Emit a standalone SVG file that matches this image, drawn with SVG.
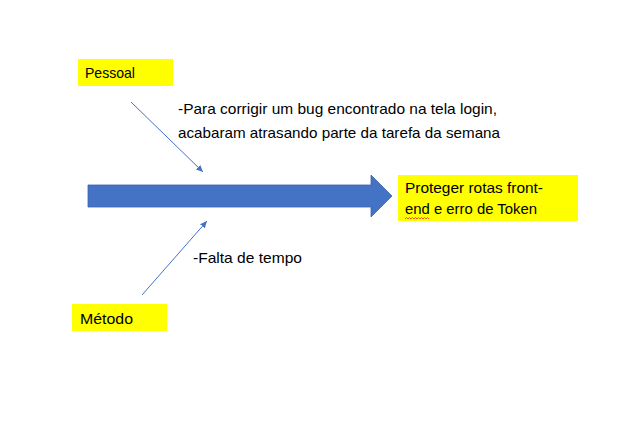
<svg xmlns="http://www.w3.org/2000/svg" width="625" height="427" viewBox="0 0 625 427">
<style>
.lbl{fill:#ffff00}
.t{font-family:"Liberation Sans",Arial,sans-serif;font-size:15px;fill:#000}
.con{stroke:#4472c4;stroke-width:1;fill:none;marker-end:url(#ah)}
</style>
<defs>
<marker id="ah" markerWidth="8" markerHeight="8" refX="7" refY="4" orient="auto" markerUnits="userSpaceOnUse">
<path d="M0,0.8 L7,4 L0,7.2 Z" fill="#4472c4"/>
</marker>
</defs>
<rect width="625" height="427" fill="#fff"/>
<g id="connectors">
<line class="con" x1="131" y1="102" x2="203" y2="172"/>
<line class="con" x1="142" y1="295" x2="207" y2="221"/>
</g>
<g id="spine">
<path d="M88,185 H371 V175 L392,196 L371,217 V207 H88 Z" fill="#4472c4" stroke="#3a62ad" stroke-width="0.8"/>
</g>
<g id="pessoal">
<rect class="lbl" x="78" y="59" width="95" height="27"/>
<text class="t" x="85" y="78" textLength="50" lengthAdjust="spacingAndGlyphs">Pessoal</text>
</g>
<g id="metodo">
<rect class="lbl" x="72" y="304" width="95" height="27"/>
<text class="t" x="80" y="324" textLength="53" lengthAdjust="spacingAndGlyphs">Método</text>
</g>
<g id="efeito">
<rect class="lbl" x="398" y="175" width="180" height="46"/>
<text class="t" x="405" y="193" textLength="138" lengthAdjust="spacingAndGlyphs">Proteger rotas front-</text>
<text class="t" x="405" y="214" textLength="132" lengthAdjust="spacingAndGlyphs">end e erro de Token</text>
<path d="M405,219 l1.5,-1.5 l1.5,1.5 l1.5,-1.5 l1.5,1.5 l1.5,-1.5 l1.5,1.5 l1.5,-1.5 l1.5,1.5 l1.5,-1.5 l1.5,1.5 l1.5,-1.5 l1.5,1.5 l1.5,-1.5 l1.5,1.5 l1.5,-1.5 l1.5,1.5" stroke="#e03030" stroke-width="0.8" fill="none"/>
</g>
<g id="causa-pessoal">
<text class="t" x="178" y="114" textLength="319" lengthAdjust="spacingAndGlyphs">-Para corrigir um bug encontrado na tela login,</text>
<text class="t" x="178" y="138" textLength="322" lengthAdjust="spacingAndGlyphs">acabaram atrasando parte da tarefa da semana</text>
</g>
<g id="causa-metodo">
<text class="t" x="193" y="263" textLength="109" lengthAdjust="spacingAndGlyphs">-Falta de tempo</text>
</g>
</svg>
